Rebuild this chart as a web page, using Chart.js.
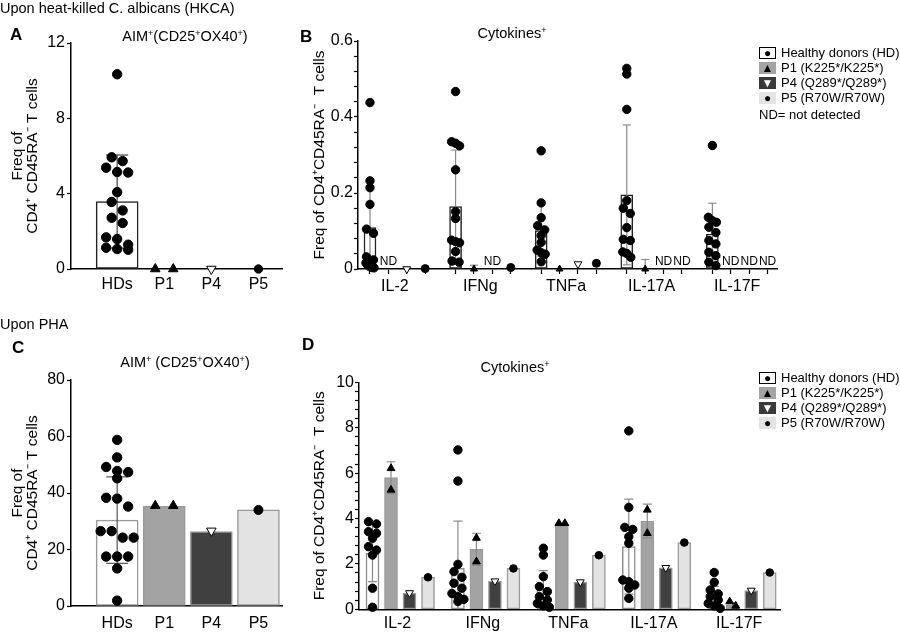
<!DOCTYPE html>
<html>
<head>
<meta charset="utf-8">
<script src="https://cdn.jsdelivr.net/npm/chart.js@4.4.1/dist/chart.umd.min.js"></script>
<style>
  body { margin: 0; background: #fff; font-family: 'Liberation Sans', Arial, sans-serif; color: #000; }
  #fig { position: relative; width: 900px; height: 633px; overflow: hidden; }
  #fig canvas { position: absolute; }
  .t { position: absolute; white-space: nowrap; font-size: 14.5px; line-height: 16px; }
  .t sup { font-size: 9px; vertical-align: 5px; line-height: 0; }
  .letter { position: absolute; font-weight: bold; font-size: 17px; line-height: 18px; }
  .legend { position: absolute; font-size: 13px; }
  .legend .row { display: flex; align-items: center; height: 15px; white-space: nowrap; }
  .legend .box { width: 17px; height: 12px; box-sizing: border-box; margin-right: 5px; display: flex;
                 align-items: center; justify-content: center; font-size: 12px; line-height: 12px; }
  .legend .nd { margin-top: 2px; height: 15px; line-height: 15px; }
</style>
</head>
<body>
<div id="fig">
  <canvas id="cA" width="295" height="300" style="left:0;top:0"></canvas>
  <canvas id="cB" width="490" height="300" style="left:295px;top:0"></canvas>
  <canvas id="cC" width="295" height="323" style="left:0;top:310px"></canvas>
  <canvas id="cD" width="490" height="323" style="left:295px;top:310px"></canvas>

  <div class="t" style="left:0;top:0">Upon heat-killed C. albicans (HKCA)</div>
  <div class="letter" style="left:10px;top:26px">A</div>
  <div class="t" style="left:185px;top:28px;transform:translateX(-50%)">AIM<sup>+</sup>(CD25<sup>+</sup>OX40<sup>+</sup>)</div>
  <div class="letter" style="left:300px;top:28px">B</div>
  <div class="t" style="left:512px;top:25px;transform:translateX(-50%)">Cytokines<sup>+</sup></div>
  <div class="legend" style="left:759px;top:45px">
    <div class="row"><span class="box" style="background:#fff;border:1.5px solid #000">&#9679;</span>Healthy donors (HD)</div>
    <div class="row"><span class="box" style="background:#a3a3a3">&#9650;</span>P1 (K225*/K225*)</div>
    <div class="row"><span class="box" style="background:#3a3a3a;color:#fff">&#9660;</span>P4 (Q289*/Q289*)</div>
    <div class="row"><span class="box" style="background:#e3e3e3">&#9679;</span>P5 (R70W/R70W)</div>
    <div class="nd">ND= not detected</div>
  </div>

  <div class="t" style="left:0;top:316px">Upon PHA</div>
  <div class="letter" style="left:12px;top:339px">C</div>
  <div class="t" style="left:185px;top:354px;transform:translateX(-50%)">AIM<sup>+</sup> (CD25<sup>+</sup>OX40<sup>+</sup>)</div>
  <div class="letter" style="left:302px;top:336px">D</div>
  <div class="t" style="left:515px;top:359px;transform:translateX(-50%)">Cytokines<sup>+</sup></div>
  <div class="legend" style="left:759px;top:370px">
    <div class="row"><span class="box" style="background:#fff;border:1.5px solid #000">&#9679;</span>Healthy donors (HD)</div>
    <div class="row"><span class="box" style="background:#a3a3a3">&#9650;</span>P1 (K225*/K225*)</div>
    <div class="row"><span class="box" style="background:#3a3a3a;color:#fff">&#9660;</span>P4 (Q289*/Q289*)</div>
    <div class="row"><span class="box" style="background:#e3e3e3">&#9679;</span>P5 (R70W/R70W)</div>
  </div>
</div>

<script>
// ---- data ----
const aimGroups = ['HDs', 'P1', 'P4', 'P5'];
const cytokines = ['IL-2', 'IFNg', 'TNFa', 'IL-17A', 'IL-17F'];

// A: HKCA, AIM+ (per member: HD, P1, P4, P5)
const aHD = [10.34, 5.93, 5.73, 5.38, 5.15, 5.12, 4.08, 3.56, 3.11, 2.72, 2.44, 1.68, 1.59, 1.29, 1.13, 1.06, 1.02];
const aP1 = [0, 0];
const aP4 = [0];
const aP5 = [0];
const aBar = [3.58, null, null, null];
const aSd = [2.47, null, null, null];

// B: HKCA, cytokines (null = not detected)
const bHD = [
  [0.438, 0.232, 0.214, 0.170, 0.105, 0.094, 0.032, 0.024, 0.016, 0.011, 0.006, 0.004, 0.003],
  [0.467, 0.335, 0.331, 0.324, 0.261, 0.151, 0.133, 0.076, 0.072, 0.069, 0.046, 0.021, 0.018],
  [0.311, 0.174, 0.135, 0.114, 0.103, 0.088, 0.070, 0.050, 0.043, 0.039, 0.019],
  [0.528, 0.513, 0.420, 0.180, 0.160, 0.146, 0.109, 0.078, 0.075, 0.045, 0.041, 0.031],
  [0.325, 0.136, 0.127, 0.123, 0.110, 0.096, 0.075, 0.066, 0.044, 0.035, 0.018, 0.009]
];
const bHDMean = [0.109, 0.164, 0.101, 0.195, 0.092];
const bHDSd = [0.10, 0.149, 0.067, 0.184, 0.081];
const bP1 = [null, 0, 0, 0, null];
const bP1Sd = [null, 0.01, null, 0.025, null];
const bP4 = [0, null, 0.013, null, null];
const bP5 = [0.001, 0.004, 0.015, null, null];

// C: PHA, AIM+
const cHD = [58.8, 52.6, 49.2, 47.8, 47.4, 45.2, 38.3, 38.0, 35.2, 26.5, 26.5, 24.2, 24.2, 17.5, 17.5, 17.5, 13.3, 1.9];
const cP1 = [35.5, 35.5];
const cP4 = [26.6];
const cP5 = [34.0];
const cBar = [30.4, 35.3, 26.3, 34.0];
const cSd = [15.3, null, null, null];

// D: PHA, cytokines
const dHD = [
  [3.86, 3.76, 3.42, 3.35, 3.13, 2.76, 2.61, 2.39, 0.93, 0.09],
  [7.02, 5.65, 1.98, 1.66, 1.41, 1.15, 0.93, 0.70, 0.56, 0.44, 0.34],
  [2.69, 2.39, 1.44, 1.00, 0.78, 0.56, 0.41, 0.26, 0.15, 0.09],
  [7.86, 4.49, 3.61, 3.52, 3.20, 2.91, 1.29, 1.22, 1.07, 0.93, 0.48],
  [1.62, 1.19, 0.85, 0.68, 0.56, 0.41, 0.26, 0.15, 0.04]
];
const dHDMean = [2.47, 1.81, 0.88, 2.76, 0.56];
const dHDSd = [1.25, 2.07, 0.82, 2.09, 0.45];
const dP1 = [[6.21, 5.26], [3.14, 2.10], [3.79, 3.79], [4.38, 3.35], [0.34, 0.15]];
const dP1Mean = [5.80, 2.64, 3.73, 3.89, 0.19];
const dP1Sd = [0.70, 0.71, 0.05, 0.74, 0.10];
const dP4 = [0.72, 1.24, 1.20, 1.83, 0.83];
const dP5 = [1.41, 1.80, 2.38, 2.94, 1.62];

// axis ticks
const aYTicks = [0, 4, 8, 12];
const cYTicks = [0, 20, 40, 60, 80];
const bYMajor = [0, 0.2, 0.4, 0.6];
const dYMajor = [0, 2, 4, 6, 8, 10];

// ---- drawing ----
Chart.defaults.font.family = "'Liberation Sans', Arial, sans-serif";
Chart.defaults.color = '#000';
Chart.defaults.animation = false;
Chart.defaults.plugins.legend.display = false;
Chart.defaults.plugins.tooltip.enabled = false;

const members = [
  { style: 'circle',   rot: 0,   fill: '#000', barFill: '#fff' },
  { style: 'triangle', rot: 0,   fill: '#000', barFill: '#a3a3a3' },
  { style: 'triangle', rot: 180, fill: '#fff', barFill: '#404040' },
  { style: 'circle',   rot: 0,   fill: '#000', barFill: '#e3e3e3' }
];

const nulls = n => Array(n).fill(null);
const wrap = arr => arr.map(v => v == null ? null : [v]);
function minorTicks(major, parts) {
  const out = [];
  for (let k = 0; k < major.length - 1; k++) {
    const step = (major[k + 1] - major[k]) / parts;
    for (let s = 0; s < parts; s++) out.push(major[k] + s * step);
  }
  out.push(major[major.length - 1]);
  return out;
}
const isMajor = (v, major) => major.some(m => Math.abs(m - v) < 1e-6);

// simple symmetric beeswarm, rows of points closer than diam are spread sideways
function swarm(chart, cx, vals, diam, maxHalf) {
  const xs = chart.scales.x, ys = chart.scales.y;
  const pxPerX = xs.getPixelForValue(1) - xs.getPixelForValue(0);
  const items = vals.map(v => ({ v, py: ys.getPixelForValue(v) })).sort((a, b) => a.py - b.py);
  const out = [];
  let row = [];
  const flush = () => {
    const n = row.length;
    let step = diam;
    if (n > 1 && (n - 1) * step > 2 * maxHalf) step = 2 * maxHalf / (n - 1);
    row.forEach((it, r) => out.push({ x: cx + (r - (n - 1) / 2) * step / pxPerX, y: it.v }));
    row = [];
  };
  items.forEach(it => {
    if (row.length && it.py - row[0].py > diam * 0.8) flush();
    row.push(it);
  });
  if (row.length) flush();
  return out;
}

const ndPlugin = {
  id: 'nd',
  afterDatasetsDraw(chart, args, opts) {
    if (!opts.items || !opts.items.length) return;
    const { ctx, scales: { x, y } } = chart;
    ctx.save();
    ctx.font = "12px 'Liberation Sans', Arial, sans-serif";
    ctx.fillStyle = '#000';
    ctx.textAlign = 'center';
    ctx.textBaseline = 'bottom';
    opts.items.forEach(v => ctx.fillText('ND', x.getPixelForValue(v), y.getPixelForValue(0) - 1));
    ctx.restore();
  }
};

function makeChart(id, p) {
  const xOf = (i, j) => p.x0 + i * p.gap + j * p.sub;
  const datasets = [];

  const barData = [], barFill = [], barStroke = [];
  p.bar.forEach((arr, m) => arr.forEach((v, i) => {
    if (v == null) return;
    barData.push({ x: xOf(i, m), y: v });
    barFill.push(members[m].barFill);
    barStroke.push(m === 0 ? p.hdStroke : p.barStroke);
  }));
  datasets.push({ type: 'bar', data: barData, backgroundColor: barFill, borderColor: barStroke,
    borderWidth: 1.5, borderSkipped: false, barThickness: p.barW, grouped: false, order: 3 });

  const errData = [];
  p.sd.forEach((arr, m) => arr.forEach((s, i) => {
    if (s == null) return;
    const mean = p.bar[m][i] != null ? p.bar[m][i] : 0, x = xOf(i, m);
    errData.push({ x, y: mean - s }, { x, y: mean + s }, { x, y: null });
  }));
  datasets.push({ type: 'line', data: errData, borderColor: p.errColor, borderWidth: 1.2, spanGaps: false,
    pointStyle: 'line', pointRadius: p.capR, pointBorderColor: p.errColor, pointBorderWidth: 1.2, order: 2 });

  members.forEach((mb, m) => {
    datasets.push({ type: 'line', showLine: false, data: [], member: m, pointStyle: mb.style,
      pointRotation: mb.rot, pointRadius: p.r[m], pointBackgroundColor: mb.fill, pointBorderColor: '#000',
      pointBorderWidth: 1, clip: false, order: 1 });
  });

  const ndItems = [];
  p.pts.forEach((arr, m) => arr.forEach((vals, i) => { if (vals == null) ndItems.push(xOf(i, m)); }));

  const xTicks = [];
  p.cats.forEach((lbl, i) => {
    if (p.xMarks) for (let j = 0; j < 4; j++) xTicks.push({ value: xOf(i, j) });
    xTicks.push({ value: p.gap ? xOf(i, p.labelJ) : xOf(0, i), lbl });
  });
  xTicks.sort((a, b) => a.value - b.value);

  const chart = new Chart(document.getElementById(id), {
    type: 'bar',
    data: { datasets },
    plugins: [ndPlugin],
    options: {
      responsive: false,
      devicePixelRatio: 1,
      layout: { autoPadding: false, padding: p.pad },
      plugins: { nd: { items: ndItems } },
      scales: {
        x: {
          type: 'linear', min: p.xMin, max: p.xMax, offset: false,
          afterBuildTicks: s => { s.ticks = xTicks.map(t => ({ ...t })); },
          ticks: { autoSkip: false, maxRotation: 0, padding: p.xPad, font: { size: 16 },
            callback: (v, i, t) => t[i].lbl || '' },
          grid: { display: true, offset: false, drawOnChartArea: false, drawTicks: p.xMarks, tickLength: 5,
            tickWidth: 1.2, tickColor: c => (c.tick && c.tick.lbl) ? 'rgba(0,0,0,0)' : '#000' },
          border: { display: true, color: '#000', width: 1.5 },
          afterFit: s => { s.height = p.xH; }
        },
        y: {
          type: 'linear', min: 0, max: p.yMax,
          afterBuildTicks: s => { s.ticks = p.yTicks.map(v => ({ value: v })); },
          ticks: { autoSkip: false, padding: p.yPad, font: { size: 16 },
            callback: v => isMajor(v, p.yMajor) ? String(+v.toFixed(2)) : '' },
          grid: { drawOnChartArea: false, drawTicks: true, tickLength: 4, tickWidth: 1.2, tickColor: '#000' },
          border: { display: true, color: '#000', width: 1.5 },
          title: { display: true, text: p.yTitle, font: { size: 15.5, lineHeight: 0.97 },
            padding: { top: p.yTitlePad, bottom: 0 } },
          afterFit: s => { s.width = p.yW; }
        }
      }
    }
  });

  chart.data.datasets.forEach(ds => {
    if (ds.member == null) return;
    const m = ds.member, out = [];
    p.pts[m].forEach((vals, i) => {
      if (vals) out.push(...swarm(chart, xOf(i, m), vals, p.diam[m], p.spread[m]));
    });
    ds.data = out;
  });
  chart.update();
  return chart;
}

const twoLineTitle = ['Freq of', 'CD4\u207A CD45RA\u207B T cells'];
const oneLineTitle = 'Freq of CD4\u207ACD45RA\u207B  T cells';

makeChart('cA', {
  cats: aimGroups, x0: 1, gap: 0, sub: 1, xMin: 0.02, xMax: 4.5, xMarks: false, xPad: 6, xH: 31,
  yMax: 12, yTicks: aYTicks, yMajor: aYTicks, yPad: 2, yW: 71, yTitle: twoLineTitle, yTitlePad: 10.5,
  pad: { top: 43, right: 13, bottom: 0, left: 0 },
  pts: [[aHD], [aP1], [aP4], [aP5]], bar: aBar.map(v => [v]), sd: aSd.map(v => [v]),
  barW: 42, hdStroke: '#222', barStroke: '#999', errColor: '#444', capR: 11,
  r: [4.7, 5.5, 5.5, 4.2], diam: [11, 18, 18, 18], spread: [17, 12, 12, 12]
});

makeChart('cB', {
  cats: cytokines, x0: 0, gap: 1, sub: 0.215, labelJ: 1.35, xMin: -0.14, xMax: 4.755, xMarks: true, xPad: 3, xH: 31,
  yMax: 0.6, yTicks: minorTicks(bYMajor, 5), yMajor: bYMajor, yPad: 1, yW: 63, yTitle: oneLineTitle, yTitlePad: 17.5,
  pad: { top: 41, right: 8, bottom: 0, left: 0 },
  pts: [bHD, wrap(bP1), wrap(bP4), wrap(bP5)],
  bar: [bHDMean, nulls(5), nulls(5), nulls(5)], sd: [bHDSd, bP1Sd, nulls(5), nulls(5)],
  barW: 12, hdStroke: '#222', barStroke: 'rgba(0,0,0,0)', errColor: '#8a8a8a', capR: 4,
  r: [4.2, 4, 4.5, 4], diam: [7, 7, 7, 7], spread: [4, 4, 4, 4]
});

makeChart('cC', {
  cats: aimGroups, x0: 1, gap: 0, sub: 1, xMin: 0.02, xMax: 4.5, xMarks: false, xPad: 8, xH: 27,
  yMax: 80, yTicks: cYTicks, yMajor: cYTicks, yPad: 2, yW: 71, yTitle: twoLineTitle, yTitlePad: 10.5,
  pad: { top: 70, right: 13, bottom: 0, left: 0 },
  pts: [[cHD], [cP1], [cP4], [cP5]], bar: cBar.map(v => [v]), sd: cSd.map(v => [v]),
  barW: 42, hdStroke: '#9a9a9a', barStroke: '#9a9a9a', errColor: '#555', capR: 11,
  r: [4.7, 5.5, 5.5, 4.5], diam: [11, 18, 18, 18], spread: [17, 12, 12, 12]
});

makeChart('cD', {
  cats: cytokines, x0: 0, gap: 1, sub: 0.2166, labelJ: 1.35, xMin: -0.158, xMax: 4.77, xMarks: false, xPad: 5, xH: 23.7,
  yMax: 10, yTicks: minorTicks(dYMajor, 5), yMajor: dYMajor, yPad: 1, yW: 64, yTitle: oneLineTitle, yTitlePad: 17.5,
  pad: { top: 72.3, right: 5, bottom: 0, left: 0 },
  pts: [dHD, dP1, wrap(dP4), wrap(dP5)], bar: [dHDMean, dP1Mean, dP4, dP5], sd: [dHDSd, dP1Sd, nulls(5), nulls(5)],
  barW: 13, hdStroke: '#8c8c8c', barStroke: '#9a9a9a', errColor: '#8a8a8a', capR: 4.5,
  r: [4.2, 4.5, 4.5, 3.8], diam: [8, 6, 6, 6], spread: [6, 4, 4, 4]
});
</script>
</body>
</html>
